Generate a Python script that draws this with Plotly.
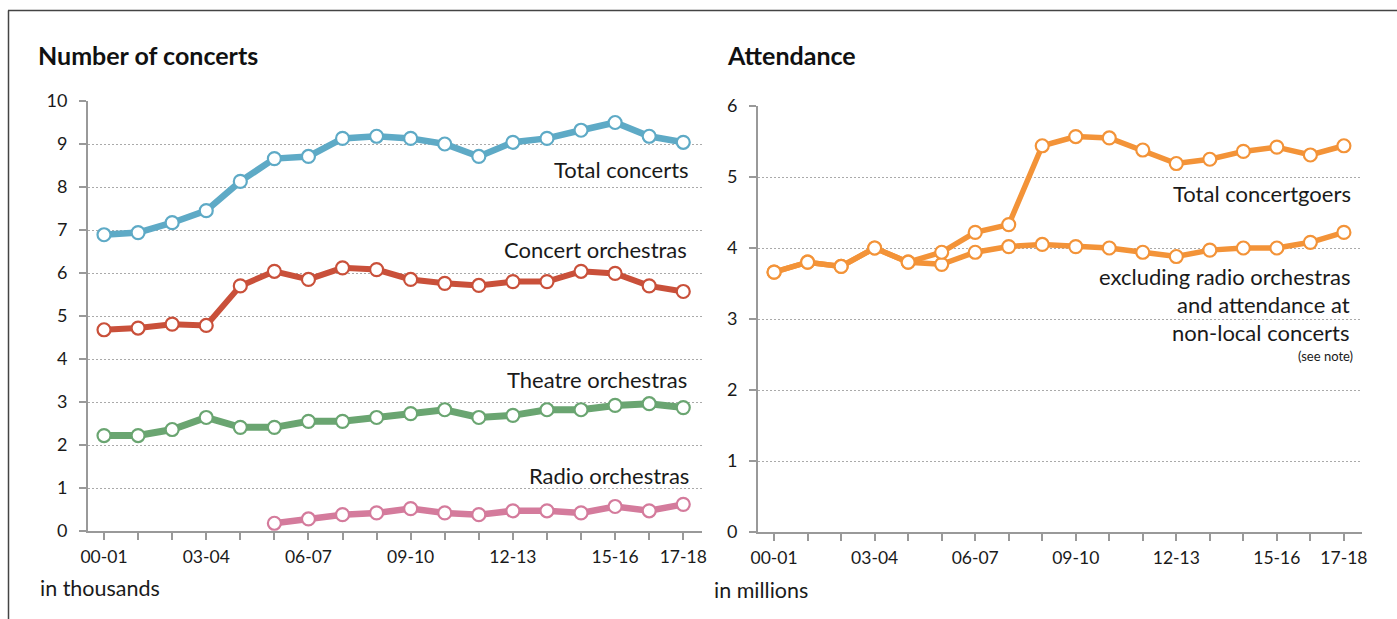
import plotly.graph_objects as go

seasons = ["00-01", "01-02", "02-03", "03-04", "04-05", "05-06", "06-07", "07-08", "08-09",
           "09-10", "10-11", "11-12", "12-13", "13-14", "14-15", "15-16", "16-17", "17-18"]
tick_labels = ["00-01", "03-04", "06-07", "09-10", "12-13", "15-16", "17-18"]

total_concerts = [6.89, 6.94, 7.17, 7.45, 8.13, 8.66, 8.71, 9.13, 9.18, 9.13, 9.0, 8.71,
                  9.04, 9.13, 9.32, 9.5, 9.18, 9.04]
concert_orch = [4.68, 4.72, 4.81, 4.78, 5.70, 6.04, 5.85, 6.12, 6.08, 5.85, 5.76, 5.71,
                5.80, 5.80, 6.04, 5.99, 5.70, 5.57]
theatre_orch = [2.22, 2.22, 2.36, 2.64, 2.41, 2.41, 2.55, 2.55, 2.64, 2.73, 2.82, 2.64,
                2.69, 2.82, 2.82, 2.92, 2.96, 2.87]
radio_orch = [None, None, None, None, None, 0.18, 0.28, 0.38, 0.42, 0.52, 0.42, 0.38,
              0.47, 0.47, 0.42, 0.57, 0.47, 0.62]

total_goers = [3.66, 3.80, 3.74, 4.0, 3.80, 3.94, 4.22, 4.33, 5.44, 5.57, 5.55, 5.38,
               5.19, 5.25, 5.36, 5.42, 5.31, 5.44]
excl_goers = [3.66, 3.80, 3.74, 4.0, 3.80, 3.77, 3.94, 4.02, 4.05, 4.02, 4.0, 3.94,
              3.88, 3.97, 4.0, 4.0, 4.08, 4.22]

W, H = 1397, 619
FONT = "Lato"
x_idx = list(range(len(seasons)))

fig = go.Figure()


def add_line(y, color, axis, width=6):
    fig.add_trace(go.Scatter(
        x=x_idx, y=y, mode="lines+markers", xaxis=axis[0], yaxis=axis[1],
        line=dict(color=color, width=width),
        marker=dict(size=13, color="white", line=dict(color=color, width=2.2)),
        connectgaps=False, showlegend=False, hoverinfo="skip"))


add_line(radio_orch, "#d47b9c", ("x", "y"), 6.5)
add_line(theatre_orch, "#6aa571", ("x", "y"), 7)
add_line(concert_orch, "#c9503a", ("x", "y"), 6)
add_line(total_concerts, "#5eaac6", ("x", "y"), 6.5)
add_line(excl_goers, "#f39338", ("x2", "y2"), 5.5)
add_line(total_goers, "#f39338", ("x2", "y2"), 5.5)


def px_x(p):
    return p / W


def px_y(p):
    return 1 - p / H


axis_common = dict(
    showline=True, linecolor="#999999", linewidth=2,
    ticks="outside", tickcolor="#999999", ticklen=7, tickwidth=1.5,
    zeroline=False, fixedrange=True, automargin=False,
)
x_common = dict(axis_common, tickfont=dict(family=FONT, size=17.5, color="#1a1a1a"),
                ticklabelstandoff=2, showgrid=False, tickmode="array", tickvals=x_idx,
                ticktext=[s if s in tick_labels else "" for s in seasons])
y_common = dict(axis_common, tickfont=dict(family=FONT, size=18, color="#1a1a1a"),
                ticklabelstandoff=8, showgrid=True, gridcolor="#aaaaaa",
                griddash="2px,2px", gridwidth=1.2, tickmode="array")

fig.update_layout(
    width=W, height=H, margin=dict(l=0, r=0, t=0, b=0, pad=0, autoexpand=False),
    paper_bgcolor="white", plot_bgcolor="white",
    xaxis=dict(domain=[px_x(88), px_x(702)], range=[-0.47, 17.55], anchor="y", **x_common),
    yaxis=dict(domain=[px_y(531), px_y(101)], range=[0, 10], anchor="x",
               tickvals=list(range(0, 11)), **y_common),
    xaxis2=dict(domain=[px_x(758), px_x(1362)], range=[-0.48, 17.54], anchor="y2", **x_common),
    yaxis2=dict(domain=[px_y(532), px_y(106)], range=[0, 6], anchor="x2",
                tickvals=list(range(0, 7)), **y_common),
)

# frame
fig.add_shape(type="line", xref="paper", yref="paper", x0=px_x(8), x1=1.01,
              y0=px_y(10.5), y1=px_y(10.5), line=dict(color="#444444", width=1.5))
fig.add_shape(type="line", xref="paper", yref="paper", x0=px_x(8.5), x1=px_x(8.5),
              y0=px_y(10.5), y1=-0.05, line=dict(color="#444444", width=1.5))


def text(x, y, s, size=22, anchor="right", bold=False, color="#1a1a1a"):
    fig.add_annotation(x=px_x(x), y=px_y(y), xref="paper", yref="paper", text=s,
                       showarrow=False, xanchor=anchor, yanchor="middle",
                       font=dict(family=FONT, size=size, color=color,
                                 weight="bold" if bold else "normal"))


text(36, 55, "Number of concerts", 25, "left", True, "#111111")
text(725, 55, "Attendance", 25, "left", True, "#111111")
text(691, 169, "Total concerts")
text(689, 250, "Concert orchestras")
text(689, 380, "Theatre orchestras")
text(691, 475, "Radio orchestras")
text(1353, 193, "Total concertgoers")
text(1352, 277, "excluding radio orchestras")
text(1352, 305, "and attendance at")
text(1352, 333, "non-local concerts")
text(1355, 356, "(see note)", 13)
text(38, 588, "in thousands", 21.5, "left")
text(712, 590, "in millions", 21.5, "left")

fig.write_html(
    "out.html", config={"displayModeBar": False},
    post_script="document.body.style.margin='0';document.body.style.overflow='hidden';",
)
